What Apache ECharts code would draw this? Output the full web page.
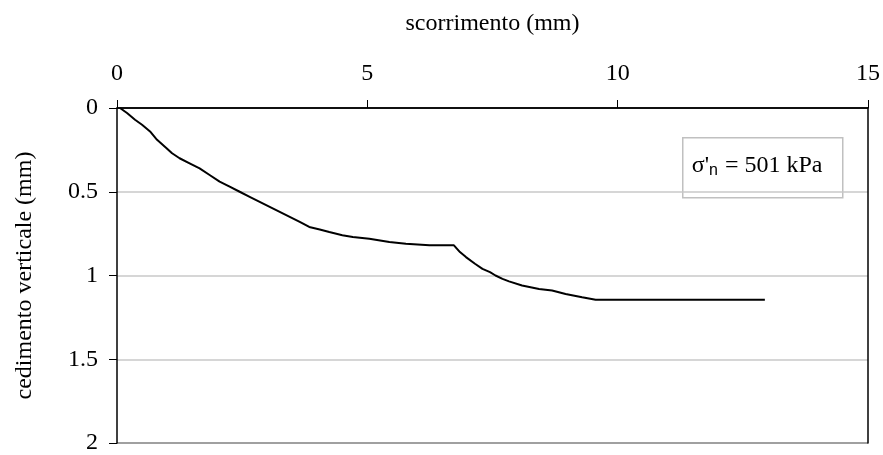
<!DOCTYPE html>
<html><head><meta charset="utf-8">
<script src="https://cdn.jsdelivr.net/npm/echarts@6/dist/echarts.min.js"></script>
<style>html,body{margin:0;padding:0;background:#fff}#c{width:883px;height:455px}</style>
</head><body><div id="c"></div>
<script>
var xTicks = [0, 5, 10, 15];
var yTicks = [0, 0.5, 1, 1.5, 2];
var slip = [0.06,0.2,0.36,0.5,0.66,0.8,0.99,1.1,1.25,1.45,1.65,1.85,2.05,2.25,2.45,2.65,2.85,3.05,3.25,3.45,3.65,3.84,4.05,4.24,4.5,4.71,5.04,5.44,5.77,6.24,6.73,6.85,6.97,7.15,7.30,7.45,7.56,7.7,7.83,8.09,8.43,8.69,8.96,9.29,9.56,10.5,11.5,12.94];
var settle = [0,0.03,0.07,0.1,0.14,0.19,0.24,0.27,0.30,0.33,0.36,0.40,0.44,0.47,0.50,0.53,0.56,0.59,0.62,0.65,0.68,0.71,0.725,0.74,0.76,0.77,0.78,0.80,0.81,0.82,0.82,0.86,0.89,0.93,0.96,0.98,1.00,1.02,1.035,1.06,1.08,1.09,1.11,1.13,1.145,1.145,1.145,1.145];

var data = slip.map(function(x,i){return [x, settle[i]];});
var chart = echarts.init(document.getElementById('c'));
var serif = '"Liberation Serif","Times New Roman",serif';
chart.setOption({
  animation:false,
  grid:{left:117,right:13,top:108,bottom:11,containLabel:false},
  xAxis:{type:'value',position:'top',min:xTicks[0],max:xTicks[xTicks.length-1],interval:5,
    name:'scorrimento (mm)',nameLocation:'middle',nameGap:72,
    nameTextStyle:{fontFamily:serif,fontSize:24,color:'#000'},
    axisLine:{show:true,lineStyle:{color:'#000',width:1.5}},
    axisTick:{show:true,inside:false,length:8,lineStyle:{color:'#000'}},
    axisLabel:{fontFamily:serif,fontSize:24,color:'#000',margin:22},
    splitLine:{show:false}},
  yAxis:[{type:'value',inverse:true,min:yTicks[0],max:yTicks[yTicks.length-1],interval:0.5,
    name:'cedimento verticale (mm)',nameLocation:'middle',nameGap:80,nameRotate:90,
    nameTextStyle:{fontFamily:serif,fontSize:24,color:'#000'},
    axisLine:{show:true,lineStyle:{color:'#000',width:1.5}},
    axisTick:{show:true,inside:false,length:8,lineStyle:{color:'#000'}},
    axisLabel:{fontFamily:serif,fontSize:24,color:'#000',margin:19},
    splitLine:{show:true,lineStyle:{color:['#000','#c8c8c8','#c8c8c8','#c8c8c8','#808080'],width:1.5}}},
   {type:'value',inverse:true,position:'right',min:0,max:2,interval:0.5,
    axisLine:{show:true,lineStyle:{color:'#000',width:1.5}},axisTick:{show:false},axisLabel:{show:false},splitLine:{show:false}}],
  series:[{type:'line',data:data,showSymbol:false,lineStyle:{color:'#000',width:2},z:5}],
  graphic:[{type:'group',left:682,top:137,children:[
    {type:'rect',shape:{x:0,y:0,width:160,height:60},style:{fill:'#fff',stroke:'#c0c0c0',lineWidth:1.5}},
    {type:'text',x:9,y:28,style:{text:"{a|σ'}{b|n}{a| = 501 kPa}",verticalAlign:'middle',
      rich:{a:{fontFamily:serif,fontSize:24,fill:'#000'},b:{fontFamily:'"Liberation Sans",Arial,sans-serif',fontSize:16,fill:'#000',padding:[10,1,0,0]}}}}
  ]}]
});
</script></body></html>
